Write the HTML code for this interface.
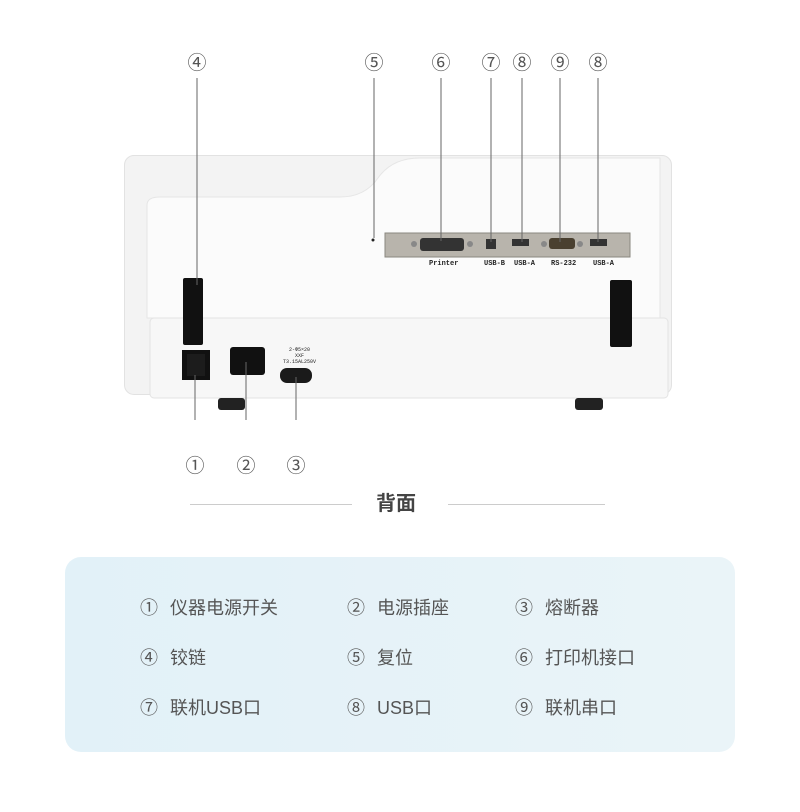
<!DOCTYPE html>
<html><head><meta charset="utf-8"><style>
*{margin:0;padding:0;box-sizing:border-box}
body{width:800px;height:812px;background:#fff;position:relative;overflow:hidden;font-family:"Liberation Sans","Noto Sans CJK SC",sans-serif}
.a{position:absolute}
.n{position:absolute;font-size:19px;color:#555;transform:translateX(-50%);line-height:20px}
.t{position:absolute;font-size:18px;color:#555;line-height:20px}
.t b{font-weight:normal;display:inline-block;width:30px}
.lb{position:absolute;font-family:"Liberation Mono",monospace;font-size:7px;font-weight:bold;color:#222}
</style></head><body>
<div class="a" style="left:124px;top:155px;width:548px;height:240px;background:#f3f3f3;border-radius:10px;border:1px solid #e2e2e2"></div>
<svg class="a" style="left:0;top:0" width="800" height="420">
<path d="M147 205 Q147 197 160 197 L340 197 Q365 197 378 178 Q392 158 420 158 L660 158 L660 318 L147 318 Z" fill="#fbfbfb" stroke="#e6e6e6"/>
<rect x="150" y="318" width="518" height="80" rx="4" fill="#f7f7f7" stroke="#e3e3e3"/>
<rect x="218" y="398" width="27" height="12" rx="3" fill="#222"/>
<rect x="575" y="398" width="28" height="12" rx="3" fill="#222"/>
<rect x="385" y="233" width="245" height="24" fill="#b8b4ac" stroke="#8a877f"/>
<rect x="420" y="238" width="44" height="13" rx="3" fill="#333"/>
<circle cx="414" cy="244" r="3" fill="#888"/><circle cx="470" cy="244" r="3" fill="#888"/>
<rect x="486" y="239" width="10" height="10" fill="#333"/>
<rect x="512" y="239" width="17" height="7" fill="#333"/>
<rect x="549" y="238" width="26" height="11" rx="3" fill="#4a4030"/>
<circle cx="544" cy="244" r="3" fill="#888"/><circle cx="580" cy="244" r="3" fill="#888"/>
<rect x="590" y="239" width="17" height="7" fill="#333"/>
<circle cx="373" cy="240" r="1.5" fill="#222"/>
<rect x="183" y="278" width="20" height="67" rx="2" fill="#111"/>
<rect x="610" y="280" width="22" height="67" rx="2" fill="#111"/>
<rect x="182" y="350" width="28" height="30" fill="#111"/>
<rect x="187" y="354" width="18" height="22" fill="#1c1c1c"/>
<rect x="230" y="347" width="35" height="28" rx="3" fill="#111"/>
<rect x="280" y="368" width="32" height="15" rx="7" fill="#1a1a1a"/>
<line x1="197" y1="78" x2="197" y2="285" stroke="#666"/>
<line x1="374" y1="78" x2="374" y2="238" stroke="#666"/>
<line x1="441" y1="78" x2="441" y2="241" stroke="#666"/>
<line x1="491" y1="78" x2="491" y2="242" stroke="#666"/>
<line x1="522" y1="78" x2="522" y2="242" stroke="#666"/>
<line x1="560" y1="78" x2="560" y2="242" stroke="#666"/>
<line x1="598" y1="78" x2="598" y2="242" stroke="#666"/>
<line x1="195" y1="375" x2="195" y2="455" stroke="#666"/>
<line x1="246" y1="362" x2="246" y2="455" stroke="#666"/>
<line x1="296" y1="377" x2="296" y2="455" stroke="#666"/>
</svg>
<div class="lb" style="left:429px;top:260px">Printer</div>
<div class="lb" style="left:484px;top:260px">USB-B</div>
<div class="lb" style="left:514px;top:260px">USB-A</div>
<div class="lb" style="left:551px;top:260px">RS-232</div>
<div class="lb" style="left:593px;top:260px">USB-A</div>
<div class="lb" style="left:283px;top:347px;font-size:5px;font-weight:normal;line-height:6px;text-align:center">2-Φ5×20<br>XXF<br>T3.15AL250V</div>
<div class="n" style="left:197px;top:54px">④</div>
<div class="n" style="left:374px;top:54px">⑤</div>
<div class="n" style="left:441px;top:54px">⑥</div>
<div class="n" style="left:491px;top:54px">⑦</div>
<div class="n" style="left:522px;top:54px">⑧</div>
<div class="n" style="left:560px;top:54px">⑨</div>
<div class="n" style="left:598px;top:54px">⑧</div>
<div class="n" style="left:195px;top:457px">①</div>
<div class="n" style="left:246px;top:457px">②</div>
<div class="n" style="left:296px;top:457px">③</div>
<div class="a" style="left:190px;top:504px;width:162px;height:1px;background:#ccc"></div>
<div class="a" style="left:448px;top:504px;width:157px;height:1px;background:#ccc"></div>
<div class="a" style="left:376px;top:492px;font-size:20px;font-weight:bold;color:#444;line-height:24px">背面</div>
<div class="a" style="left:65px;top:557px;width:670px;height:195px;border-radius:16px;background:linear-gradient(90deg,#e2f1f8,#eaf4f8)"></div>
<div class="t" style="left:140px;top:598px"><b>①</b>仪器电源开关</div>
<div class="t" style="left:347px;top:598px"><b>②</b>电源插座</div>
<div class="t" style="left:515px;top:598px"><b>③</b>熔断器</div>
<div class="t" style="left:140px;top:648px"><b>④</b>铰链</div>
<div class="t" style="left:347px;top:648px"><b>⑤</b>复位</div>
<div class="t" style="left:515px;top:648px"><b>⑥</b>打印机接口</div>
<div class="t" style="left:140px;top:698px"><b>⑦</b>联机USB口</div>
<div class="t" style="left:347px;top:698px"><b>⑧</b>USB口</div>
<div class="t" style="left:515px;top:698px"><b>⑨</b>联机串口</div>
</body></html>
